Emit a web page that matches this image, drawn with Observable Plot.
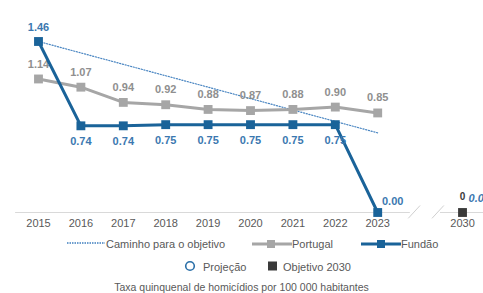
<!DOCTYPE html>
<html><head><meta charset="utf-8">
<script src="https://cdn.jsdelivr.net/npm/d3@7"></script>
<script src="https://cdn.jsdelivr.net/npm/@observablehq/plot@0.6"></script>
<style>
body{margin:0;background:#fff;font-family:"Liberation Sans",Arial,sans-serif;}
#wrap{position:relative;width:483px;height:293px;overflow:hidden;}
.lg{position:absolute;font-size:11px;color:#595959;white-space:nowrap;line-height:12px;}
.lg svg{vertical-align:middle;}
</style></head>
<body><div id="wrap"><div id="chart"></div>
<div class="lg" style="left:66px;top:238px"><svg width="40" height="8" style="vertical-align:1px"><line x1="1" y1="4" x2="39" y2="4" stroke="#3f7fbf" stroke-width="1.5" stroke-dasharray="1.5,1"/></svg>Caminho para o objetivo</div>
<div class="lg" style="left:252px;top:238px"><svg width="40" height="10" style="vertical-align:-1px"><line x1="0" y1="5" x2="40" y2="5" stroke="#a6a6a6" stroke-width="3"/><rect x="15" y="1" width="8" height="8" fill="#a6a6a6"/></svg>Portugal</div>
<div class="lg" style="left:361px;top:238px"><svg width="40" height="10" style="vertical-align:-1px"><line x1="0" y1="5" x2="40" y2="5" stroke="#1a6399" stroke-width="3"/><rect x="16" y="1" width="8" height="8" fill="#1a6399"/></svg>Fundão</div>
<div class="lg" style="left:184px;top:260px"><svg width="12" height="12" style="vertical-align:-1px"><circle cx="6" cy="6" r="4.3" fill="none" stroke="#2a6fa8" stroke-width="1.6"/></svg><span style="margin-left:7px">Projeção</span></div>
<div class="lg" style="left:267px;top:260px"><svg width="12" height="12" style="vertical-align:-1px"><rect x="1" y="1.5" width="9" height="9" fill="#3a3a3a"/></svg><span style="margin-left:4px">Objetivo 2030</span></div>
<div class="lg" style="left:0;width:483px;top:281px;text-align:center;font-size:10.5px">Taxa quinquenal de homicídios por 100 000 habitantes</div>
</div>
<script>
const years = [2015, 2016, 2017, 2018, 2019, 2020, 2021, 2022, 2023];
const portugal = [1.14, 1.07, 0.94, 0.92, 0.88, 0.87, 0.88, 0.90, 0.85];
const fundao = [1.46, 0.74, 0.74, 0.75, 0.75, 0.75, 0.75, 0.75, 0.00];
const pathYears = [2015, 2023];
const pathValues = [1.46, 0.68];
const targetYear = 2030;
const targetValue = 0;
const tickYears = [...years, targetYear];

// broken axis: 2015..2023 evenly spaced, then a gap of one slot, then 2030
const xi = y => y <= 2023 ? y - 2015 : 10;

const blue = "#1a6399", lblBlue = "#3b78b0", gray = "#a6a6a6", lblGray = "#8f8f8f";

const pt = years.map((y, i) => ({x: xi(y), pt: portugal[i], fu: fundao[i], i}));
const path = pathYears.map((y, i) => ({x: xi(y), v: pathValues[i]}));
const target = [{x: xi(targetYear), v: targetValue}];

const chart = Plot.plot({
  width: 483, height: 232,
  marginLeft: 0, marginRight: 0, marginTop: 0, marginBottom: 20,
  x: {type: "linear", domain: [-0.896, 10.495]},
  y: {domain: [0, 1.81], axis: null},
  style: {fontFamily: "Liberation Sans, Arial, sans-serif", background: "transparent"},
  marks: [
    Plot.ruleY([0], {x1: -0.54, x2: 8.77, stroke: "#d9d9d9", strokeWidth: 1}),
    Plot.ruleY([0], {x1: 9.48, x2: 10.6, stroke: "#d9d9d9", strokeWidth: 1}),
    Plot.link([{a: 8.72, b: 9.0}, {a: 9.28, b: 9.56}], {x1: "a", x2: "b", y1: -0.05, y2: 0.06, stroke: "#d0d0d0", strokeWidth: 1}),
    Plot.axisX({ticks: tickYears.map(xi), tickFormat: d => String(tickYears[tickYears.map(xi).indexOf(d)]), tickSize: 0, tickPadding: 7, fontSize: 11, color: "#595959", label: null}),
    Plot.line(path, {x: "x", y: "v", stroke: "#4a86c2", strokeWidth: 1.2, strokeDasharray: "1.2,1.6"}),
    Plot.line(pt, {x: "x", y: "pt", stroke: gray, strokeWidth: 3}),
    Plot.dot(pt, {x: "x", y: "pt", symbol: "square", r: 5, fill: gray}),
    Plot.text(pt, {x: "x", y: "pt", text: d => d.pt.toFixed(2), dy: -15, fill: lblGray, fontWeight: "bold", fontSize: 11}),
    Plot.line(pt, {x: "x", y: "fu", stroke: blue, strokeWidth: 3}),
    Plot.dot(pt, {x: "x", y: "fu", symbol: "square", r: 5, fill: blue}),
    Plot.text(pt.filter(d => d.i > 0 && d.i < 8), {x: "x", y: "fu", text: d => d.fu.toFixed(2), dy: 16, fill: lblBlue, fontWeight: "bold", fontSize: 11}),
    Plot.text(pt.filter(d => d.i === 0), {x: "x", y: "fu", text: d => d.fu.toFixed(2), dy: -14, fill: lblBlue, fontWeight: "bold", fontSize: 11}),
    Plot.text(pt.filter(d => d.i === 8), {x: "x", y: "fu", text: d => d.fu.toFixed(2), dx: 15, dy: -11, fill: lblBlue, fontWeight: "bold", fontSize: 11}),
    Plot.dot(target, {x: "x", y: "v", symbol: "square", r: 5, fill: "#3a3a3a"}),
    Plot.text(target, {x: "x", y: "v", text: d => String(d.v), dx: 0, dy: -16, fill: "#3a3a3a", fontWeight: "bold", fontSize: 10}),
    Plot.text(target, {x: "x", y: "v", text: d => d.v.toFixed(1), dx: 6, dy: -14, textAnchor: "start", fill: lblBlue, fontStyle: "italic", fontWeight: "bold", fontSize: 11})
  ]
});
document.getElementById("chart").appendChild(chart);
</script></body></html>
